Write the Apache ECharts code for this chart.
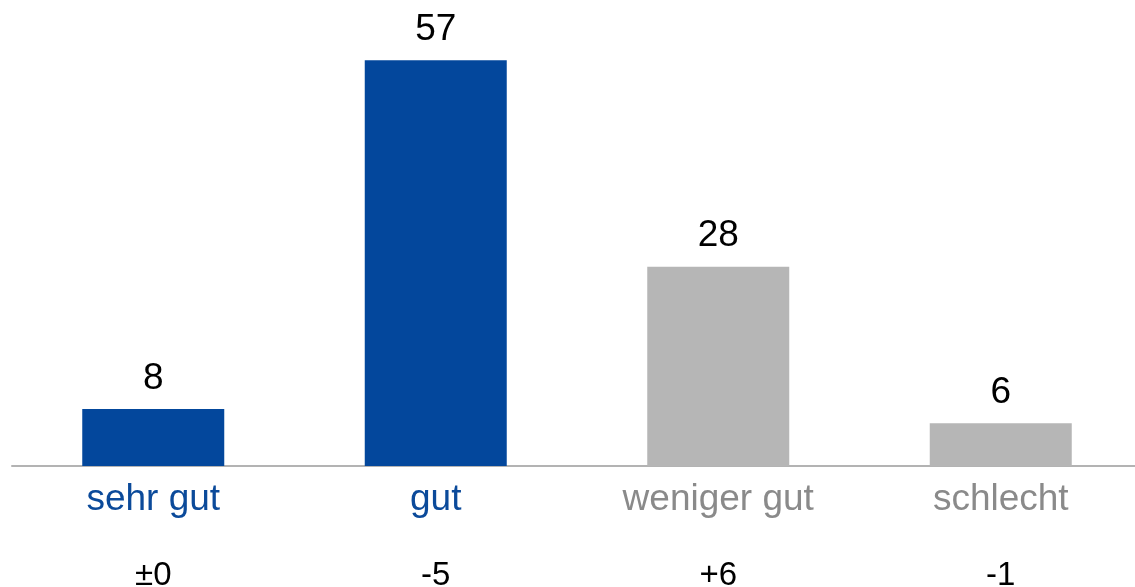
<!DOCTYPE html>
<html>
<head>
<meta charset="utf-8">
<script src="https://cdn.jsdelivr.net/npm/echarts@6/dist/echarts.min.js"></script>
<style>
	html, body { margin: 0; padding: 0; background: #fff; }
	#chart { width: 1135px; height: 587px; }
</style>
</head>
<body>
<div id="chart"></div>
<script>
// Daten
var categories = ['sehr gut', 'gut', 'weniger gut', 'schlecht'];
var values = [8, 57, 28, 6];
var changes = ['±0', '-5', '+6', '-1'];

// Farben je Kategorie
var barColors = ['#03479c', '#03479c', '#b6b6b6', '#b6b6b6'];
var labelColors = ['#0b4a9a', '#0b4a9a', '#8a8a8a', '#8a8a8a'];

var chart = echarts.init(document.getElementById('chart'));

var option = {
	animation: false,
	textStyle: {
		fontFamily: 'Liberation Sans, Arial, sans-serif'
	},
	grid: {
		left: 12,
		width: 1130,
		top: 39,
		bottom: 121,
		containLabel: false,
		outerBoundsMode: 'none'
	},
	xAxis: {
		type: 'category',
		data: categories,
		axisLine: {
			lineStyle: { color: '#b3b3b3', width: 2 }
		},
		axisTick: { show: false },
		axisLabel: {
			margin: 14,
			interval: 0,
			formatter: function (value, idx) {
				return '{n' + idx + '|' + value + '}\n{d|' + changes[idx] + '}';
			},
			rich: {
				n0: { color: labelColors[0], fontSize: 37, lineHeight: 40 },
				n1: { color: labelColors[1], fontSize: 37, lineHeight: 40 },
				n2: { color: labelColors[2], fontSize: 37, lineHeight: 40 },
				n3: { color: labelColors[3], fontSize: 37, lineHeight: 40 },
				d: { color: '#000', fontSize: 33, lineHeight: 112 }
			}
		}
	},
	yAxis: {
		type: 'value',
		min: 0,
		max: 60,
		show: false,
		splitLine: { show: false }
	},
	series: [{
		type: 'bar',
		barWidth: 142,
		data: values.map(function (v, i) {
			return { value: v, itemStyle: { color: barColors[i] } };
		}),
		label: {
			show: true,
			position: 'top',
			distance: 12,
			color: '#000',
			fontSize: 37
		}
	}]
};

chart.setOption(option);
</script>
</body>
</html>
